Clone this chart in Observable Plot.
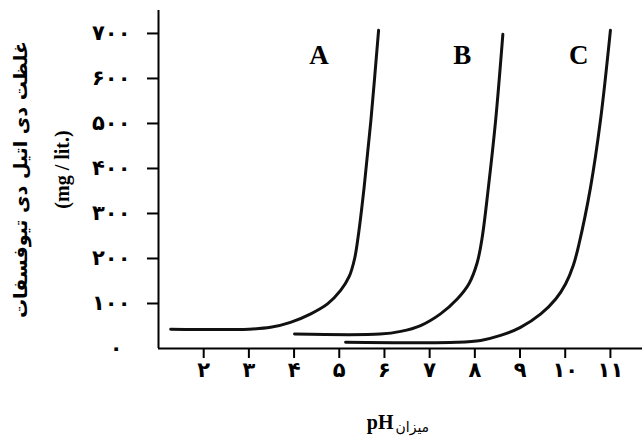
<!DOCTYPE html>
<html>
<head>
<meta charset="utf-8">
<script src="https://cdn.jsdelivr.net/npm/d3@7"></script>
<script src="https://cdn.jsdelivr.net/npm/@observablehq/plot@0.6"></script>
<style>
  html, body { margin: 0; padding: 0; background: #fff; }
  #chart svg { display: block; }
</style>
</head>
<body>
<div id="chart"></div>
<script>
// Data (pH vs concentration mg/lit.)
const phA  = [1.27, 3.0, 3.48, 3.92, 4.37, 4.74, 5.03, 5.22, 5.34, 5.42, 5.55, 5.7, 5.87];
const valA = [43, 43, 47, 58, 77, 99, 129, 160, 200, 250, 358, 507, 707];
const phB  = [4.01, 5.9, 6.36, 6.8, 7.24, 7.61, 7.87, 8.05, 8.16, 8.3, 8.46, 8.62];
const valB = [32, 32, 38, 51, 77, 110, 144, 190, 245, 358, 507, 698];
const phC  = [5.14, 7.6, 8.13, 8.57, 9.01, 9.46, 9.79, 10.01, 10.18, 10.3, 10.56, 10.78, 11.0];
const valC = [14, 14, 18, 29, 47, 77, 110, 144, 185, 230, 358, 507, 707];

const seriesNames = ["A", "B", "C"];
const labelPH  = [4.55, 7.72, 10.3];
const labelVal = [651, 651, 651];

const xTicks = [2, 3, 4, 5, 6, 7, 8, 9, 10, 11];
const yTicks = [100, 200, 300, 400, 500, 600, 700];
const yZero  = [0];

const yTitle1 = "غلظت دی اتیل دی تیوفسفات";
const yTitle2 = "(mg / lit.)";
const xTitleLatin = "pH";
const xTitlePersian = "میزان";

const fa = d => String(d).replace(/\d/g, c => "۰۱۲۳۴۵۶۷۸۹"[+c]);

const rows = [];
[[phA, valA, "A"], [phB, valB, "B"], [phC, valC, "C"]].forEach(([xs, ys, s]) =>
  xs.forEach((x, i) => rows.push({ph: x, v: ys[i], s})));
const labels = seriesNames.map((s, i) => ({s, ph: labelPH[i], v: labelVal[i]}));

const chart = Plot.plot({
  width: 642,
  height: 445,
  marginLeft: 158,
  marginRight: 0,
  marginTop: 10,
  marginBottom: 97,
  style: {fontFamily: "DejaVu Sans", background: "#fff", color: "#000"},
  x: {domain: [1, 11.71]},
  y: {domain: [0, 751]},
  marks: [
    Plot.axisX({ticks: xTicks, tickSize: 10, tickPadding: 4, tickFormat: fa, fontSize: 21, fontWeight: "bold", label: null, strokeWidth: 2}),
    Plot.axisY({ticks: yTicks, tickSize: 11, tickPadding: 17, tickFormat: fa, fontSize: 21, fontWeight: "bold", label: null, strokeWidth: 2}),
    Plot.axisY({ticks: yZero, tickSize: 0, tickPadding: 36, tickFormat: fa, fontSize: 21, fontWeight: "bold", label: null}),
    Plot.ruleX([1], {strokeWidth: 2}),
    Plot.ruleY([0], {strokeWidth: 2}),
    Plot.line(rows, {x: "ph", y: "v", z: "s", stroke: "#111", strokeWidth: 3, curve: "catmull-rom"}),
    Plot.text(labels, {x: "ph", y: "v", text: "s", fontFamily: "Liberation Serif", fontWeight: "bold", fontSize: 27}),
    Plot.text([yTitle1], {frameAnchor: "left", textAnchor: "middle", dx: -138, rotate: -90, text: d => d, fontSize: 19, fontWeight: "bold"}),
    Plot.text([yTitle2], {frameAnchor: "left", textAnchor: "middle", dx: -96, dy: -10, rotate: -90, text: d => d, fontSize: 20, fontWeight: "bold", fontFamily: "Liberation Serif"}),
    Plot.text([xTitleLatin], {frameAnchor: "bottom", dx: -7, dy: 80, textAnchor: "end", text: d => d, fontSize: 20, fontWeight: "bold", fontFamily: "Liberation Serif"}),
    Plot.text([xTitlePersian], {frameAnchor: "bottom", dx: -5, dy: 83, textAnchor: "start", text: d => d, fontSize: 14})
  ]
});
document.getElementById("chart").appendChild(chart);
</script>
</body>
</html>
